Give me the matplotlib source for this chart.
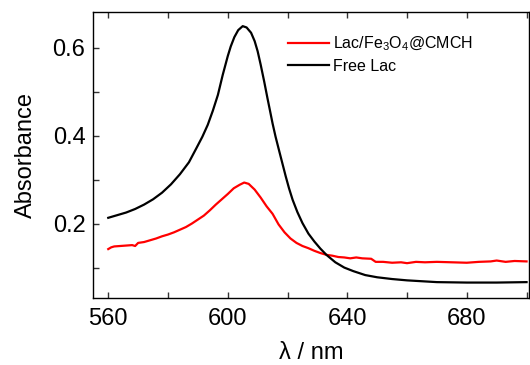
import matplotlib
matplotlib.use("Agg")
import matplotlib.pyplot as plt
from matplotlib.ticker import MultipleLocator

plt.rcParams['font.family'] = ['Liberation Sans', 'DejaVu Sans']
plt.rcParams['mathtext.fontset'] = 'custom'
plt.rcParams['mathtext.rm'] = 'Liberation Sans'
plt.rcParams['mathtext.it'] = 'Liberation Sans:italic'

free_wl = [560, 563, 566, 569, 572, 575, 578, 581, 584, 587, 589.5, 591.5, 593.3,
           595, 596.7, 598.3, 600, 601, 602.2, 603.5, 605, 606.3, 607.8, 609, 610,
           611, 612.2, 613.3, 614.2, 615, 616, 617.2, 618.3, 619.4, 620.5, 621.7,
           623.3, 625, 627, 629, 631, 633, 636, 639, 642, 646, 650, 655, 660, 665,
           670, 680, 690, 700]
free_abs = [0.214, 0.220, 0.226, 0.234, 0.244, 0.256, 0.271, 0.290, 0.313, 0.340,
            0.372, 0.398, 0.425, 0.457, 0.493, 0.538, 0.581, 0.603, 0.624, 0.640,
            0.649, 0.646, 0.634, 0.615, 0.592, 0.562, 0.523, 0.485, 0.455, 0.428,
            0.398, 0.366, 0.337, 0.308, 0.281, 0.255, 0.227, 0.202, 0.178, 0.160,
            0.144, 0.130, 0.113, 0.101, 0.093, 0.084, 0.079, 0.075, 0.072, 0.070,
            0.068, 0.067, 0.067, 0.068]

imm_wl = [560, 561, 562, 564, 566, 568, 569, 570, 572, 574, 576, 578, 580, 582,
          584, 586, 588, 590, 592, 594, 596, 598, 600, 602, 604, 605.5, 607, 609,
          611, 613, 615, 617, 619, 621, 623, 625, 627, 629, 631, 633, 635, 637,
          639, 641, 643, 645, 648, 649.5, 652, 655, 658, 660, 663, 666, 670, 675,
          680, 684, 688, 690, 693, 696, 700]
imm_abs = [0.143, 0.147, 0.149, 0.150, 0.151, 0.152, 0.150, 0.157, 0.159, 0.163,
           0.167, 0.172, 0.176, 0.181, 0.187, 0.193, 0.201, 0.210, 0.219, 0.231,
           0.244, 0.256, 0.268, 0.281, 0.289, 0.294, 0.291, 0.278, 0.260, 0.240,
           0.223, 0.199, 0.181, 0.167, 0.157, 0.150, 0.145, 0.139, 0.134, 0.130,
           0.128, 0.125, 0.124, 0.122, 0.124, 0.122, 0.121, 0.114, 0.114, 0.112,
           0.113, 0.111, 0.114, 0.113, 0.114, 0.113, 0.112, 0.114, 0.115, 0.117,
           0.114, 0.116, 0.115]

x_ticks = [560, 600, 640, 680]
y_ticks = [0.2, 0.4, 0.6]

fig = plt.figure(figsize=(5.3, 3.65), dpi=100)
ax = fig.add_axes([0.1755, 0.1836, 0.8225, 0.7834])

ax.plot(imm_wl, imm_abs, color='#ff0000', lw=1.6, label='Lac/Fe$_3$O$_4$@CMCH')
ax.plot(free_wl, free_abs, color='black', lw=1.6, label='Free Lac')

ax.set_xlim(554.9, 700.8)
ax.set_ylim(0.032, 0.681)
ax.set_xticks(x_ticks)
ax.set_yticks(y_ticks)
ax.xaxis.set_minor_locator(MultipleLocator(20))
ax.yaxis.set_minor_locator(MultipleLocator(0.1))
ax.tick_params(which='both', direction='in', top=True, right=False, labelsize=17,
               width=1, color='#333333')
ax.tick_params(which='both', length=4)
ax.tick_params(axis='x', pad=7)
ax.tick_params(axis='y', pad=5.5)
for s in ax.spines.values():
    s.set_linewidth(1.0)

ax.set_xlabel('λ / nm', fontsize=17, labelpad=9)
ax.set_ylabel('Absorbance', fontsize=17, labelpad=11)

ax.legend(loc='upper left', bbox_to_anchor=(0.447, 0.92), frameon=False,
          borderaxespad=0, borderpad=0,
          fontsize=11.5, handlelength=2.6, handletextpad=0.2, labelspacing=0.35)

fig.savefig('out.png', dpi=100)
